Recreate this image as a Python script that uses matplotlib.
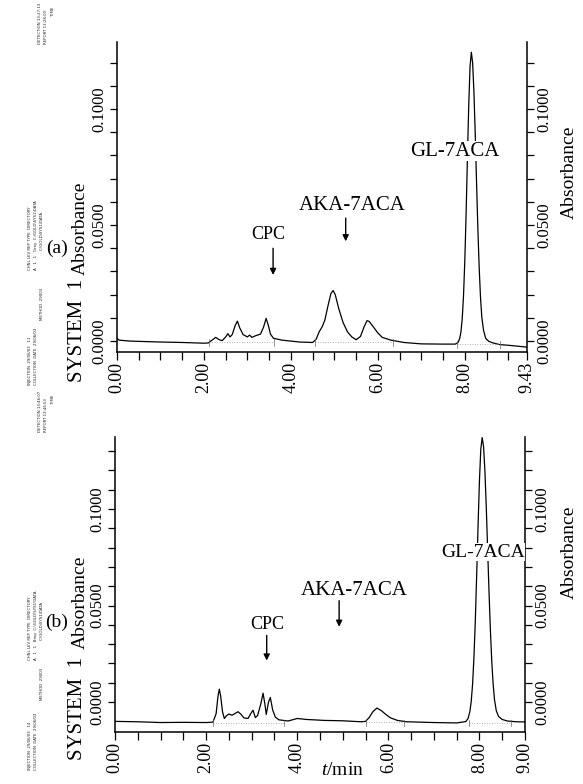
import matplotlib
matplotlib.use("Agg")
import matplotlib.pyplot as plt
import numpy as np

plt.rcParams['font.family'] = ['Liberation Serif', 'DejaVu Serif']
plt.rcParams['mathtext.fontset'] = 'custom'
plt.rcParams['mathtext.rm'] = 'Liberation Serif'
plt.rcParams['mathtext.it'] = 'Liberation Serif:italic'

W, H = 583, 784

# ---------------- data: panel (a) ----------------
t_a = [0.00, 0.05, 0.30, 1.00, 1.50, 2.00, 2.10, 2.20, 2.27, 2.35, 2.42, 2.50, 2.55, 2.60, 2.65,
       2.72, 2.77, 2.82, 2.90, 3.00, 3.05, 3.10, 3.20, 3.30, 3.37, 3.43, 3.48, 3.53, 3.60, 3.80,
       4.20, 4.50, 4.58, 4.65, 4.72, 4.78, 4.85, 4.92, 4.97, 5.02, 5.10, 5.20, 5.30, 5.40, 5.50,
       5.60, 5.68, 5.75, 5.80, 5.90, 6.00, 6.10, 6.30, 6.60, 7.00, 7.50, 7.78, 7.84, 7.88, 7.91,
       7.94, 7.97, 8.00, 8.03, 8.06, 8.09, 8.12, 8.15, 8.18, 8.21, 8.24, 8.27, 8.30, 8.33, 8.36,
       8.39, 8.43, 8.48, 8.55, 8.65, 8.80, 9.00, 9.43]
a_a = [0.0012, 0.0004, 0.0000, -0.0004, -0.0006, -0.0009, -0.0008, 0.0006, 0.0016, 0.0006, 0.0002,
       0.0018, 0.0032, 0.0018, 0.0028, 0.0068, 0.0086, 0.0058, 0.0028, 0.0018, 0.0026, 0.0016,
       0.0024, 0.0030, 0.0060, 0.0098, 0.0068, 0.0030, 0.0012, 0.0004, -0.0004, -0.0006, 0.0008,
       0.0040, 0.0062, 0.0090, 0.0150, 0.0205, 0.0218, 0.0200, 0.0140, 0.0080, 0.0040, 0.0018,
       0.0006, 0.0020, 0.0060, 0.0088, 0.0085, 0.0060, 0.0035, 0.0016, 0.0004, -0.0006, -0.0012,
       -0.0013, -0.0013, -0.0007, 0.0010, 0.0039, 0.0096, 0.0196, 0.0349, 0.0553, 0.0791, 0.1017,
       0.1183, 0.1245, 0.1198, 0.1071, 0.0888, 0.0681, 0.0483, 0.0317, 0.0191, 0.0104, 0.0047,
       0.0012, -0.0001, -0.0008, -0.0015, -0.0018, -0.0026]

# integration baselines (start, end, level) for panel (a)
base_a = [(2.12, 3.62, -0.0002), (4.55, 6.35, -0.0004), (7.82, 8.80, -0.0012)]

# ---------------- data: panel (b) ----------------
t_b = [0.00, 0.50, 1.00, 1.50, 2.00, 2.15, 2.22, 2.26, 2.29, 2.32, 2.36, 2.40, 2.45, 2.50, 2.57,
       2.63, 2.70, 2.76, 2.83, 2.92, 2.98, 3.03, 3.08, 3.13, 3.20, 3.25, 3.29, 3.32, 3.37, 3.41,
       3.46, 3.52, 3.60, 3.80, 4.00, 4.20, 4.60, 5.00, 5.40, 5.50, 5.58, 5.66, 5.75, 5.85, 5.95,
       6.05, 6.20, 6.40, 7.00, 7.50, 7.70, 7.75, 7.79, 7.82, 7.85, 7.88, 7.91, 7.94, 7.97, 8.00,
       8.03, 8.06, 8.09, 8.12, 8.15, 8.18, 8.21, 8.24, 8.27, 8.30, 8.33, 8.37, 8.42, 8.50, 8.61,
       8.81, 9.00]
a_b = [-0.0100, -0.0102, -0.0106, -0.0105, -0.0106, -0.0104, -0.0060, 0.0030, 0.0067, 0.0030,
       -0.0050, -0.0085, -0.0070, -0.0062, -0.0068, -0.0060, -0.0050, -0.0062, -0.0082, -0.0085,
       -0.0060, -0.0042, -0.0080, -0.0070, -0.0010, 0.0046, -0.0010, -0.0064, 0.0000, 0.0024,
       -0.0040, -0.0078, -0.0092, -0.0098, -0.0085, -0.0090, -0.0095, -0.0097, -0.0102, -0.0100,
       -0.0080, -0.0050, -0.0031, -0.0045, -0.0065, -0.0082, -0.0095, -0.0102, -0.0106, -0.0108,
       -0.0101, -0.0085, -0.0049, 0.0004, 0.0095, 0.0235, 0.0427, 0.0664, 0.0917, 0.1147, 0.1311,
       0.1370, 0.1324, 0.1197, 0.1009, 0.0790, 0.0571, 0.0375, 0.0214, 0.0095, 0.0013, -0.0045,
       -0.0075, -0.0090, -0.0098, -0.0102, -0.0103]

base_b = [(2.15, 3.70, -0.0106), (5.50, 6.35, -0.0104), (7.76, 8.70, -0.0106)]

# axis tick data
xticks_a = [0.0, 2.0, 4.0, 6.0, 8.0, 9.43]
xticklabels_a = ['0.00', '2.00', '4.00', '6.00', '8.00', '9.43']
xticks_b = [0.0, 2.0, 4.0, 6.0, 8.0, 9.0]
xticklabels_b = ['0.00', '2.00', '4.00', '6.00', '8.00', '9.00']
yticks = [0.0, 0.05, 0.10]
yticklabels = ['0.0000', '0.0500', '0.1000']

# annotation labels: (text, size, text_x, text_y, arrow_x, arrow_y0, arrow_y1)
ann_a = [('CPC', 13, 3.47, 0.0460, 3.59, 0.0400, 0.0285),
         ('AKA-7ACA', 15, 5.40, 0.0586, 5.26, 0.0530, 0.0430)]
ann_b = [('CPC', 13, 3.34, 0.0400, 3.33, 0.0345, 0.0215),
         ('AKA-7ACA', 15, 5.25, 0.0580, 4.92, 0.0525, 0.0390)]
gl_a = ('GL-7ACA', 15, 7.77, 0.0819)
gl_b = ('GL-7ACA', 14, 8.07, 0.0777)


def fx(px):
    return px / W


def fy(py):
    return 1 - py / H


fig = plt.figure(figsize=(W / 100, H / 100), dpi=100)
fig.patch.set_facecolor('white')


def make_panel(rect, t, a, base, xlim, ylim, xticks, xticklabels):
    l, tp, r, b = rect
    ax = fig.add_axes([fx(l), fy(b), fx(r - l), (b - tp) / H])
    ax.plot(t, a, color='black', lw=0.9)
    for (s, e, lev) in base:
        ax.plot([s, e], [lev, lev], color='#999999', lw=0.6, ls=(0, (1, 2)))
        for xx in (s, e):
            ax.plot([xx, xx], [lev - 0.0018, lev + 0.0012], color='#666666', lw=0.5)
    ax.set_xlim(*xlim)
    ax.set_ylim(*ylim)
    ax.spines['top'].set_visible(False)
    for s in ('left', 'right', 'bottom'):
        ax.spines[s].set_linewidth(1.1)
    ax.set_xticks(xticks)
    ax.set_xticklabels(xticklabels, rotation=90, fontsize=13)
    ax.set_xticks(np.arange(0, xlim[1] + 0.01, 0.5), minor=True)
    ax.set_yticks(yticks)
    ax.set_yticklabels(yticklabels, rotation=90, fontsize=12, va='center')
    ax.set_yticks(np.arange(0, ylim[1], 0.01), minor=True)
    ax.tick_params(axis='x', which='both', direction='out', length=6, width=0.9, pad=1)
    ax.tick_params(axis='y', which='both', direction='out', length=5, width=0.9, pad=2,
                   left=True, right=True, labelleft=True, labelright=True)
    for lab in ax.get_yticklabels():
        lab.set_rotation(90)
        lab.set_va('center')
    return ax


ax_a = make_panel((117, 42, 527, 352), t_a, a_a, base_a, (0, 9.43), (-0.0047, 0.1289),
                  xticks_a, xticklabels_a)
ax_b = make_panel((115, 437, 525, 732), t_b, a_b, base_b, (0, 9.0), (-0.0155, 0.1373),
                  xticks_b, xticklabels_b)

for ax, anns, gl in ((ax_a, ann_a, gl_a), (ax_b, ann_b, gl_b)):
    for (txt, fs, tx, ty, axx, y0, y1) in anns:
        ax.text(tx, ty, txt, fontsize=fs, ha='center', va='center')
        ax.annotate('', xy=(axx, y1), xytext=(axx, y0),
                    arrowprops=dict(arrowstyle='-|>', color='black', lw=1.0,
                                    mutation_scale=9, shrinkA=0, shrinkB=0))
    ax.text(gl[2], gl[3], gl[0], fontsize=gl[1], ha='center', va='center',
            bbox=dict(facecolor='white', edgecolor='none', pad=0.5))

ax_b.text(4.99, -0.0352, r'$t$/min', fontsize=14, ha='center', va='center')

# side labels
for (cy_abs, cy_sys, cy_lab, lab, cy_rabs) in ((228, 330, 248, '(a)', 172),
                                               (602, 708, 622, '(b)', 552)):
    fig.text(fx(80), fy(cy_abs), 'Absorbance', rotation=90, fontsize=14,
             ha='center', va='center')
    fig.text(fx(77), fy(cy_sys), 'SYSTEM  1', rotation=90, fontsize=15,
             ha='center', va='center')
    fig.text(fx(57), fy(cy_lab), lab, fontsize=14, ha='center', va='center')
    fig.text(fx(569), fy(cy_rabs), 'Absorbance', rotation=90, fontsize=14,
             ha='center', va='center')

# tiny report header text (x px, y px of bottom end, text)
hdr_a = [(30, 385, 'INJECTION  29/06/03   11'), (36, 385, 'COLLECTION  DATE  29/06/03'),
         (42, 320, 'METHOD  29003'), (30, 270, 'CHNL LEV REP TYPE  DIRECTORY'),
         (36, 270, 'A   1   1   Gray  C:\\GOLD\\SYS1\\DATA'),
         (42, 250, 'C:\\GOLD\\SYS1\\DATA'), (40, 44, 'DETECTION 13:27:13'),
         (46, 44, 'REPORT 13:28:03'), (53, 16, 'TIME')]
hdr_b = [(30, 770, 'INJECTION  29/06/03   14'), (36, 770, 'COLLECTION  DATE  29/06/03'),
         (42, 700, 'METHOD  29003'), (30, 660, 'CHNL LEV REP TYPE  DIRECTORY'),
         (36, 660, 'A   1   1   Bmp  C:\\GOLD\\SYS1\\DATA'),
         (42, 640, 'C:\\GOLD\\SYS1\\DATA'), (40, 432, 'DETECTION 13:46:07'),
         (46, 432, 'REPORT 13:46:53'), (53, 404, 'TIME')]
for (x, y, s) in hdr_a + hdr_b:
    fig.text(fx(x), fy(y), s, rotation=90, fontsize=2.8, ha='center', va='bottom',
             family='DejaVu Sans', color='#222222')

fig.savefig('out.png', dpi=100, facecolor='white')
